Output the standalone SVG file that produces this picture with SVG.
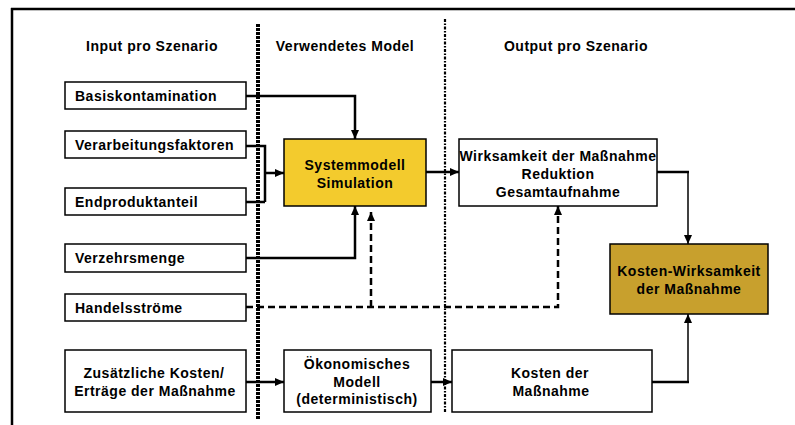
<svg xmlns="http://www.w3.org/2000/svg" width="795" height="425" viewBox="0 0 795 425">
<defs>
<marker id="ah" markerUnits="userSpaceOnUse" markerWidth="9" markerHeight="9" viewBox="0 0 9 9" refX="9" refY="4.5" orient="auto">
<path d="M0,0.5 L9,4.5 L0,8.5 z" fill="#000"/>
</marker>
<style>
text{font-family:"Liberation Sans",Arial,sans-serif;font-weight:bold;font-size:14px;letter-spacing:0.5px;fill:#000}
.c{text-anchor:middle}
.box{fill:#fff;stroke:#000;stroke-width:1.5}
.ln{fill:none;stroke:#000;stroke-width:2.5}
.thin{fill:none;stroke:#000;stroke-width:1.5}
.dash{fill:none;stroke:#000;stroke-width:2.5;stroke-dasharray:7 4}
</style>
</defs>
<rect width="795" height="425" fill="#fff"/>
<g id="frame">
<line x1="11" y1="9" x2="795" y2="9" stroke="#000" stroke-width="2.5"/>
<line x1="12" y1="8" x2="12" y2="425" stroke="#000" stroke-width="2.5"/>
</g>
<g id="dividers">
<line x1="258" y1="24" x2="258" y2="420" stroke="#000" stroke-width="4" stroke-dasharray="3 1"/>
<line x1="445" y1="19" x2="445" y2="412" stroke="#000" stroke-width="2.2" stroke-dasharray="3 1.5 1.5 1.5"/>
</g>
<g id="headers">
<text class="c" x="152" y="51">Input pro Szenario</text>
<text class="c" x="345" y="51">Verwendetes Model</text>
<text class="c" x="576" y="51">Output pro Szenario</text>
</g>
<g id="connectors">
<path class="ln" d="M246,96 H355 V139" marker-end="url(#ah)"/>
<path class="ln" d="M246,146 H265 V202 M246,202 H265"/>
<path class="ln" d="M265,173 H284" marker-end="url(#ah)"/>
<path class="ln" d="M246,258 H355 V206" marker-end="url(#ah)"/>
<path class="dash" d="M246,307 H558 V206" marker-end="url(#ah)"/>
<path class="dash" d="M371,307 V212" marker-end="url(#ah)"/>
<path class="ln" d="M426,172 H459" marker-end="url(#ah)"/>
<path class="ln" d="M657,172 H689"/>
<path class="thin" d="M688,172 V244" marker-end="url(#ah)"/>
<path class="ln" d="M246,382 H284" marker-end="url(#ah)"/>
<path class="ln" d="M431,382 H452" marker-end="url(#ah)"/>
<path class="ln" d="M652,382 H689"/>
<path class="thin" d="M688,382 V314" marker-end="url(#ah)"/>
</g>
<g id="basiskontamination">
<rect class="box" x="65" y="82" width="181" height="27"/>
<text x="75" y="101">Basiskontamination</text>
</g>
<g id="verarbeitungsfaktoren">
<rect class="box" x="65" y="131" width="181" height="27"/>
<text x="75" y="150">Verarbeitungsfaktoren</text>
</g>
<g id="endproduktanteil">
<rect class="box" x="65" y="188" width="181" height="27"/>
<text x="75" y="207">Endproduktanteil</text>
</g>
<g id="verzehrsmenge">
<rect class="box" x="65" y="244" width="181" height="28"/>
<text x="75" y="263">Verzehrsmenge</text>
</g>
<g id="handelsstroeme">
<rect class="box" x="65" y="294" width="181" height="27"/>
<text x="75" y="313">Handelsströme</text>
</g>
<g id="zusaetzliche-kosten">
<rect class="box" x="65" y="350" width="181" height="62"/>
<text class="c" x="154" y="378">Zusätzliche Kosten/</text>
<text class="c" x="155" y="396">Erträge der Maßnahme</text>
</g>
<g id="systemmodell">
<rect x="284" y="139" width="142" height="67" fill="#F3CB2D" stroke="#000" stroke-width="1.5"/>
<text class="c" x="355" y="170">Systemmodell</text>
<text class="c" x="355" y="188">Simulation</text>
</g>
<g id="wirksamkeit">
<rect class="box" x="459" y="139" width="198" height="67"/>
<text class="c" x="558" y="161">Wirksamkeit der Maßnahme</text>
<text class="c" x="558" y="179">Reduktion</text>
<text class="c" x="558" y="197">Gesamtaufnahme</text>
</g>
<g id="kosten-wirksamkeit">
<rect x="610" y="244" width="158" height="70" fill="#C8A02D" stroke="#000" stroke-width="1.5"/>
<text class="c" x="689" y="276">Kosten-Wirksamkeit</text>
<text class="c" x="689" y="294">der Maßnahme</text>
</g>
<g id="oekonomisches-modell">
<rect class="box" x="284" y="350" width="147" height="62"/>
<text class="c" x="357" y="369">Ökonomisches</text>
<text class="c" x="357" y="387">Modell</text>
<text class="c" x="357" y="404">(deterministisch)</text>
</g>
<g id="kosten-der-massnahme">
<rect class="box" x="452" y="350" width="200" height="62"/>
<text class="c" x="550" y="378">Kosten der</text>
<text class="c" x="551" y="396">Maßnahme</text>
</g>
</svg>
